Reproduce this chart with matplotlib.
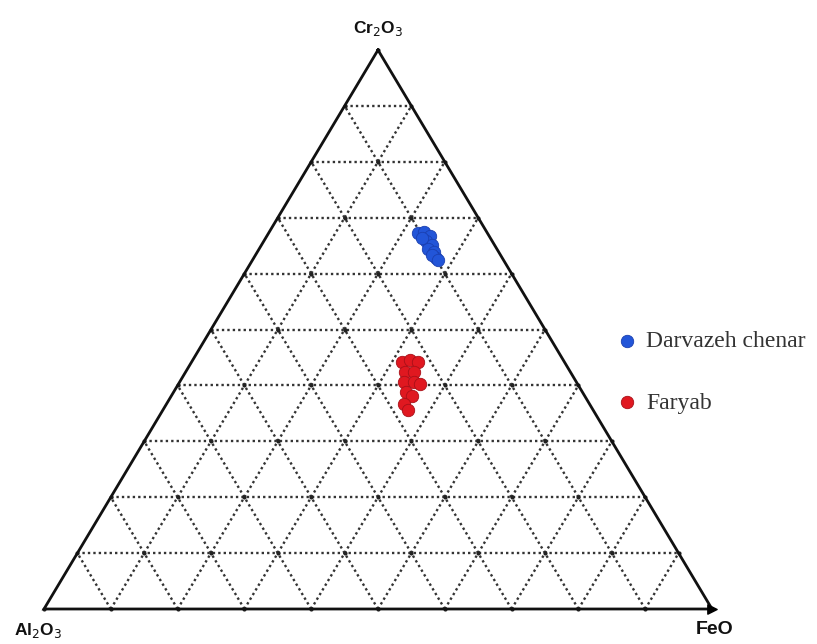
import matplotlib
matplotlib.use("Agg")
import matplotlib.pyplot as plt
import numpy as np

# ---- data (wt. proportions, %) ----
darvazeh_cr2o3 = [67.3, 67.4, 66.7, 65.8, 65.1, 64.4, 63.9, 62.8, 63.3, 62.4, 66.4]
darvazeh_feo   = [22.4, 23.2, 24.4, 24.3, 25.5, 25.3, 26.5, 27.3, 26.4, 27.8, 23.4]
darvazeh_al2o3 = [100 - c - f for c, f in zip(darvazeh_cr2o3, darvazeh_feo)]

faryab_cr2o3 = [44.2, 44.5, 44.2, 42.4, 42.4, 40.6, 40.6, 40.3, 38.8, 38.1, 36.7, 35.6]
faryab_feo   = [31.5, 32.5, 33.9, 32.8, 34.2, 33.6, 35.1, 36.2, 34.8, 36.0, 35.6, 36.7]
faryab_al2o3 = [100 - c - f for c, f in zip(faryab_cr2o3, faryab_feo)]

apex_labels = ["Cr$_2$O$_3$", "Al$_2$O$_3$", "FeO"]
series_names = ["Darvazeh chenar", "Faryab"]
grid_ticks = [10, 20, 30, 40, 50, 60, 70, 80, 90]


def tern(cr, fe, al):
    cr = np.asarray(cr, float); fe = np.asarray(fe, float); al = np.asarray(al, float)
    s = cr + fe + al
    c = cr / s
    f = fe / s
    return f + c / 2.0, c


W, H = 817, 644
fig = plt.figure(figsize=(W / 100, H / 100), dpi=100)
ax = fig.add_axes([0, 0, 1, 1])
# pixel mapping: base from x=44 to 712, base y=609, apex y=50
x0, x1, yb, yt = 44.0, 712.0, 609.0, 50.0
sx = x1 - x0
sy = yb - yt
ax.set_xlim(-x0 / sx, (W - x0) / sx)
ax.set_ylim((yb - H) / sy, yb / sy)
ax.axis("off")

# grid (dotted)
gkw = dict(color="#333333", lw=1.7, ls=(0, (1, 1.3)), zorder=1)
for t in grid_ticks:
    v = t
    xa, ya = tern([v, v], [0, 100 - v], [100 - v, 0])
    ax.plot(xa, ya, **gkw)
    xa, ya = tern([0, 100 - v], [v, v], [100 - v, 0])
    ax.plot(xa, ya, **gkw)
    xa, ya = tern([0, 100 - v], [100 - v, 0], [v, v])
    ax.plot(xa, ya, **gkw)

# grid nodes
nx, ny = [], []
for i in range(0, 11):
    for j in range(0, 11 - i):
        k = 10 - i - j
        px, py = tern([i * 10], [j * 10], [k * 10])
        nx.append(px[0]); ny.append(py[0])
ax.scatter(nx, ny, s=9, color="#222222", zorder=2, lw=0)

# outline
ox, oy = tern([100, 0, 0, 100], [0, 0, 100, 0], [0, 100, 0, 0])
ax.plot(ox, oy, color="#111111", lw=2.0, zorder=3, solid_joinstyle="miter")
ax.scatter([1.0], [0.0], marker=">", s=45, color="black", zorder=3)

# data
bx, by = tern(darvazeh_cr2o3, darvazeh_feo, darvazeh_al2o3)
rx, ry = tern(faryab_cr2o3, faryab_feo, faryab_al2o3)
ax.scatter(bx, by, s=80, color="#2255d8", edgecolors="#1a3fb0", linewidths=0.6, zorder=5,
           label=series_names[0])
ax.scatter(rx, ry, s=80, color="#e01820", edgecolors="#a81018", linewidths=0.6, zorder=5,
           label=series_names[1])

# apex labels
lab = dict(fontfamily="Liberation Sans", fontweight="bold", fontsize=12.5, color="#111111")
ax.text(0.5, 1.0 + 12 / sy, apex_labels[0], ha="center", va="bottom", **lab)
ax.text(-6 / sx, -12 / sy, apex_labels[1], ha="center", va="top", **lab)
ax.text(1.0 + 3 / sx, -12 / sy, apex_labels[2], ha="center", va="top",
        **{**lab, "fontsize": 14})

# legend
leg = fig.legend(loc="center left", bbox_to_anchor=(600 / W, 1 - 372 / H), frameon=False,
                 prop=dict(family="Liberation Serif", size=17), labelspacing=1.7,
                 handletextpad=0.05, markerscale=1.0, borderaxespad=0, handlelength=1.5)
for t in leg.get_texts():
    t.set_color("#333333")

fig.savefig("out.png", dpi=100)
